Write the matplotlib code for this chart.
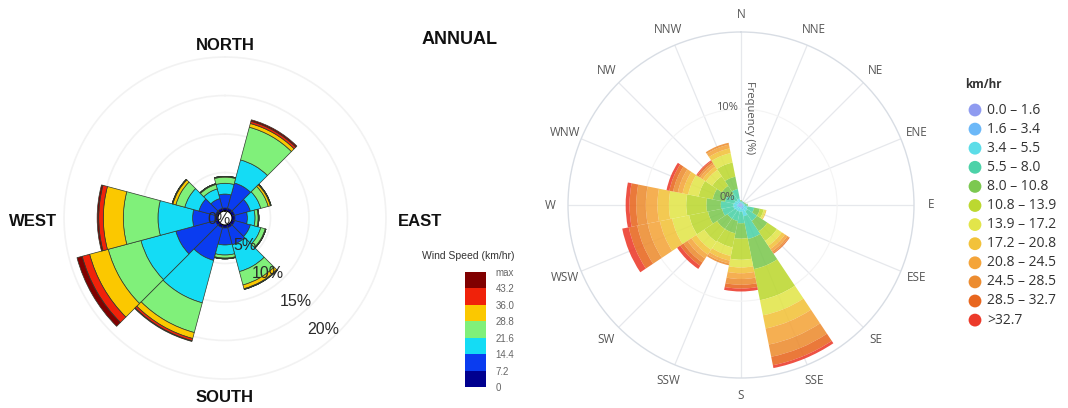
import numpy as np
import matplotlib.pyplot as plt

W, H = 1068, 408

# ---- left rose (12 sectors of 30 deg), frequency % per speed band
left_dirs = np.arange(0, 360, 30)
left_names = ['NORTH', 'EAST', 'SOUTH', 'WEST']
left_bins = ['0', '7.2', '14.4', '21.6', '28.8', '36.0', '43.2', 'max']
left_0_72 = [0.4, 0.4, 0.4, 0.4, 0.4, 0.4, 0.4, 0.4, 0.4, 0.4, 0.4, 0.4]
left_72_144 = [1.8, 3.4, 2.1, 1.6, 2.1, 2.3, 2.2, 4.4, 5.3, 2.9, 2.2, 1.3]
left_144_216 = [1.4, 3.1, 1.4, 1.0, 1.4, 3.6, 1.3, 5.7, 4.7, 4.5, 1.9, 1.3]
left_216_288 = [0.8, 4.4, 1.0, 0.4, 0.6, 1.8, 0.4, 4.0, 4.4, 4.5, 1.2, 0.6]
left_288_360 = [0.1, 0.5, 0.3, 0.1, 0.1, 0.5, 0.1, 0.8, 2.5, 2.6, 0.4, 0.1]
left_360_432 = [0.0, 0.3, 0.1, 0.0, 0.0, 0.1, 0.0, 0.3, 1.0, 0.6, 0.1, 0.0]
left_432_max = [0.0, 0.2, 0.0, 0.0, 0.0, 0.0, 0.0, 0.1, 0.7, 0.2, 0.0, 0.0]
left_rings = [5, 10, 15, 20]
left_colors = ['#00008f', '#0a3cf0', '#14dcf5', '#80f07a', '#fbc800', '#f0220a', '#800000']

# ---- right rose (16 sectors), frequency % per speed bin
right_dirs = ['N', 'NNE', 'NE', 'ENE', 'E', 'ESE', 'SE', 'SSE',
              'S', 'SSW', 'SW', 'WSW', 'W', 'WNW', 'NW', 'NNW']
right_bins = ['0.0 \u2013 1.6', '1.6 \u2013 3.4', '3.4 \u2013 5.5', '5.5 \u2013 8.0',
              '8.0 \u2013 10.8', '10.8 \u2013 13.9', '13.9 \u2013 17.2', '17.2 \u2013 20.8',
              '20.8 \u2013 24.5', '24.5 \u2013 28.5', '28.5 \u2013 32.7', '>32.7']
r_b01 = [.1, .1, .1, .1, .1, .1, .1, .2, .1, .1, .1, .2, .2, .1, .1, .1]
r_b02 = [.1, .1, .1, .1, .1, .2, .2, .3, .2, .2, .2, .2, .2, .2, .2, .2]
r_b03 = [.1, .1, .1, .1, .2, .4, .5, .7, .4, .4, .4, .4, .4, .4, .3, .4]
r_b04 = [.1, .1, .1, .1, .2, .7, 1.2, 2.4, 1.2, 1.0, 1.0, 1.2, 1.3, 1.0, .8, 1.0]
r_b05 = [.1, 0, 0, .1, .1, .6, 1.3, 3.2, 1.6, 1.3, 1.3, 1.5, 1.5, 1.3, 1.0, 1.3]
r_b06 = [0, 0, 0, 0, 0, .4, 1.2, 3.3, 2.2, 1.5, 1.6, 2.0, 2.1, 1.5, 1.2, 1.5]
r_b07 = [0, 0, 0, 0, 0, .2, .6, 1.6, .8, .9, 1.0, 1.8, 1.8, 1.1, .8, 1.0]
r_b08 = [0, 0, 0, 0, 0, .1, .4, 1.4, .6, .5, .6, 1.3, 1.2, .6, .4, .5]
r_b09 = [0, 0, 0, 0, 0, 0, .3, 1.7, .6, .3, .5, 1.3, 1.2, .5, .3, .4]
r_b10 = [0, 0, 0, 0, 0, 0, .2, 1.3, .6, .2, .5, 1.1, 1.0, .5, .2, .2]
r_b11 = [0, 0, 0, 0, 0, 0, .1, .9, .4, 0, .4, .9, .7, .4, .2, 0]
r_b12 = [0, 0, 0, 0, 0, 0, 0, .3, .3, 0, .4, .7, .4, .3, .1, 0]
right_colors = ['#8f9bf0', '#6cb8f8', '#5cdde8', '#4cd2a8', '#7cc850', '#bcd830',
                '#e2e54a', '#f2c23a', '#f4a43a', '#ec8c30', '#e8661e', '#ec3a2a']

fig = plt.figure(figsize=(W / 100, H / 100), dpi=100)


def rect(cx, cy, R):
    return [(cx - R) / W, 1 - (cy + R) / H, 2 * R / W, 2 * R / H]


# ---------------- left wind rose ----------------
axL = fig.add_axes(rect(225, 218, 172.5), projection='polar')
axL.set_theta_zero_location('N')
axL.set_theta_direction(-1)
axL.set_ylim(0, 21.5)
axL.set_rorigin(-7 / 7.7)
axL.spines['polar'].set_visible(False)
axL.set_xticks([])
axL.set_rgrids(left_rings, labels=[''] * 4)
axL.yaxis.grid(True, color='#f2f2f2', lw=1.2)
axL.plot([0, 0], [-1, 20.5], color='#d8d8d8', lw=0.9, zorder=0)
axL.plot([np.pi, np.pi], [-1, 20.5], color='#d8d8d8', lw=0.9, zorder=0)
axL.plot([np.pi / 2, np.pi / 2], [-1, 21], color='#d4d4d4', lw=0.9, ls=(0, (6, 4)), zorder=0)
axL.plot([1.5 * np.pi, 1.5 * np.pi], [-1, 20.5], color='#d4d4d4', lw=0.9, ls=(0, (6, 4)), zorder=0)

theta_l = np.deg2rad(left_dirs)
bottom = np.zeros(len(left_dirs))
for vals, col in zip([left_0_72, left_72_144, left_144_216, left_216_288,
                      left_288_360, left_360_432, left_432_max], left_colors):
    vals = np.array(vals)
    axL.bar(theta_l, vals, width=np.deg2rad(30), bottom=bottom, color=col,
            edgecolor='#2e3a2e', linewidth=0.5, zorder=2)
    bottom += vals

# ---------------- right wind rose ----------------
axR = fig.add_axes(rect(741, 205, 173), projection='polar')
axR.set_theta_zero_location('N')
axR.set_theta_direction(-1)
axR.set_ylim(0, 18)
axR.spines['polar'].set_color('#d8dde4')
axR.spines['polar'].set_linewidth(1.0)
axR.set_thetagrids(np.arange(0, 360, 22.5), labels=[''] * 16)
axR.set_rgrids([10], labels=[''])
axR.xaxis.grid(True, color='#e6e8ec', lw=0.9)
axR.yaxis.grid(True, color='#f4f4f4', lw=0.8)

theta_r = np.deg2rad(np.arange(0, 360, 22.5))
bottom = np.zeros(16)
for vals, col in zip([r_b01, r_b02, r_b03, r_b04, r_b05, r_b06, r_b07, r_b08,
                      r_b09, r_b10, r_b11, r_b12], right_colors):
    vals = np.array(vals)
    axR.bar(theta_r, vals, width=np.deg2rad(22.5), bottom=bottom, color=col,
            alpha=0.88, linewidth=0, zorder=2)
    bottom += vals

for ang, name in zip(np.arange(0, 360, 22.5), right_dirs):
    axR.text(np.deg2rad(ang), 19.8, name, ha='center', va='center',
             fontsize=8.5, color='#555555', family='Open Sans', clip_on=False)

# ---------------- overlay for text & legends (pixel coords) ----------------
ov = fig.add_axes([0, 0, 1, 1])
ov.set_xlim(0, W)
ov.set_ylim(H, 0)
ov.axis('off')

bold = dict(family='Liberation Sans', fontweight='bold', color='#111111', fontsize=12)
ov.text(225, 45, left_names[0], ha='center', va='center', **bold)
ov.text(420, 221, left_names[1], ha='center', va='center', **bold)
ov.text(225, 397, left_names[2], ha='center', va='center', **bold)
ov.text(33, 221, left_names[3], ha='center', va='center', **bold)
ov.text(460, 40, 'ANNUAL', ha='center', va='center', family='Liberation Sans',
        fontweight='bold', color='#111111', fontsize=13)

pct_pos = [(219, 219), (245, 246), (268, 273), (296, 302), (323, 330)]
for (x, y), v in zip(pct_pos, [0] + left_rings):
    ov.text(x, y, f'{v}%', ha='center', va='center', fontsize=11.5,
            family='Liberation Sans', color='#2a2a2a', zorder=5)

# left colour legend
ov.text(468, 256, 'Wind Speed (km/hr)', ha='center', va='center', fontsize=7.5,
        family='Liberation Sans', color='#333333')
axC = fig.add_axes([465 / W, 1 - 387 / H, 21 / W, 115 / H])
for i, col in enumerate(left_colors):
    axC.bar(0, 1, bottom=i, width=1, color=col, linewidth=0)
axC.set_xlim(-0.5, 0.5)
axC.set_ylim(0, 7)
axC.set_xticks([])
axC.yaxis.tick_right()
axC.set_yticks(range(8))
axC.set_yticklabels(left_bins, fontsize=7, color='#666666', family='Liberation Sans')
axC.tick_params(axis='y', length=0, pad=7)
for s in axC.spines.values():
    s.set_visible(False)

# right rose axis texts
txt = dict(family='Open Sans', fontsize=8, color='#555555')
ov.text(738, 107, '10%', ha='right', va='center', **txt)
ov.text(735, 198, '0%', ha='right', va='center', **txt)
ov.text(749, 118, 'Frequency (%)', ha='center', va='center', rotation=270, **txt)

# right legend
ov.text(965, 84, 'km/hr', ha='left', va='center', family='Open Sans',
        fontweight='bold', fontsize=8.5, color='#333333')
for i, (lab, col) in enumerate(zip(right_bins, right_colors)):
    y = 110 + i * 19.1
    ov.scatter([975], [y], s=85, color=col, edgecolor='none')
    ov.text(987, y, lab, ha='left', va='center', family='Open Sans',
            fontsize=10, color='#333333')

fig.savefig('out.png', dpi=100)
